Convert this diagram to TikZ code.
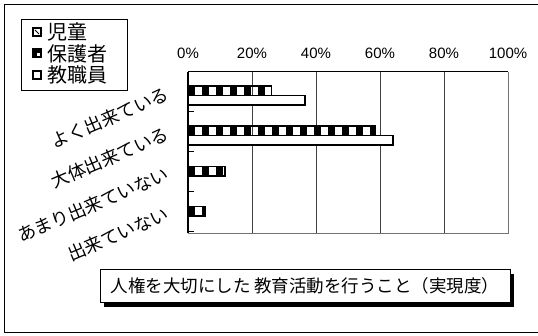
\documentclass[tikz,border=0pt]{standalone}
\usepackage{fontspec}
\setmainfont{Liberation Sans}
\newfontfamily\cjk{Noto Sans CJK JP}
\usetikzlibrary{shadows}
\tikzset{
  catlabel/.style={anchor=east,rotate=23,inner sep=0pt,font=\cjk\fontsize{18}{18}\selectfont},
  pctlabel/.style={inner sep=0pt,font=\fontsize{15}{15}\selectfont},
  legtext/.style={anchor=west,inner sep=0pt,font=\cjk\fontsize{20}{20}\selectfont},
  gridline/.style={draw=black!75,line width=0.8pt},
  tbar/.style={draw=black,line width=1.3pt,fill=white},
  pbarframe/.style={draw=black,line width=1.3pt},
}
\newcommand{\pbar}[3]{% xend, ytop, ybottom
  \begin{scope}
    \clip (188,#2) rectangle (#1,#3);
    \foreach \k in {0,...,24} {\fill[black] (188+\k*14,#2) rectangle (195+\k*14,#3);}
  \end{scope}
  \draw[pbarframe] (188,#2) rectangle (#1,#3);
}
\begin{document}
\begin{tikzpicture}[x=1pt,y=-1pt]
\useasboundingbox (0,0) rectangle (538,336);
% outer frame
\draw[line width=1pt] (540,5) -- (4,5) -- (4,333) -- (540,333);
% legend
\draw[line width=0.8pt] (21,19) rectangle (127,90);
\draw[line width=1.2pt,fill=white] (33,28) rectangle (41,36);
\draw[line width=0.9pt] (35,30) -- (39,34);
\draw[line width=1.2pt,fill=black] (33,49) rectangle (41,57);
\fill[white] (37,53) rectangle (40,56);
\draw[line width=1.4pt,fill=white] (33,71) rectangle (41,79);
\node[legtext] (l1) at (47,32) {児童};
\node[legtext] (l2) at (47,53.5) {保護者};
\node[legtext] (l3) at (47,75) {教職員};
% axis labels
\foreach \p/\lab in {0/0\%,20/20\%,40/40\%,60/60\%,80/80\%,100/100\%}
  \node[pctlabel] (p\p) at (188+3.2*\p,53) {\lab};
% plot area
\draw[black!55,line width=0.9pt] (508,72) -- (508,233) -- (188,233);
\foreach \p in {20,40,60,80} \draw[gridline] (188+3.2*\p,72) -- (188+3.2*\p,233);
\draw[black,line width=1pt] (188,72) -- (508,72);
% bars
\pbar{271.7}{86}{95.5}
\draw[tbar] (188,95.5) rectangle (305,105);
\pbar{375}{126}{135.5}
\draw[tbar] (188,135.5) rectangle (393,145);
\pbar{225}{166.5}{176}
\pbar{205.7}{206.5}{216}
% left axis and ticks
\draw[black,line width=1.6pt] (188,72) -- (188,233);
\foreach \t in {72,112,152,192,232} \draw[black,line width=1pt] (188,\t) -- (194,\t);
% category labels
\node[catlabel] (c1) at (168,93) {よく出来ている};
\node[catlabel] (c2) at (168,133) {大体出来ている};
\node[catlabel] (c3) at (168,173) {あまり出来ていない};
\node[catlabel] (c4) at (168,213) {出来ていない};
% title box
\node[draw=black,line width=0.8pt,fill=white,minimum width=410pt,minimum height=33pt,inner sep=0pt,
  font=\cjk\fontsize{17.5}{17.5}\selectfont,
  drop shadow={shadow xshift=4pt,shadow yshift=-5pt,fill=black,opacity=1}] (title) at (305,285.5)
  {人権を大切にした 教育活動を行うこと（実現度）};
\end{tikzpicture}
\end{document}
